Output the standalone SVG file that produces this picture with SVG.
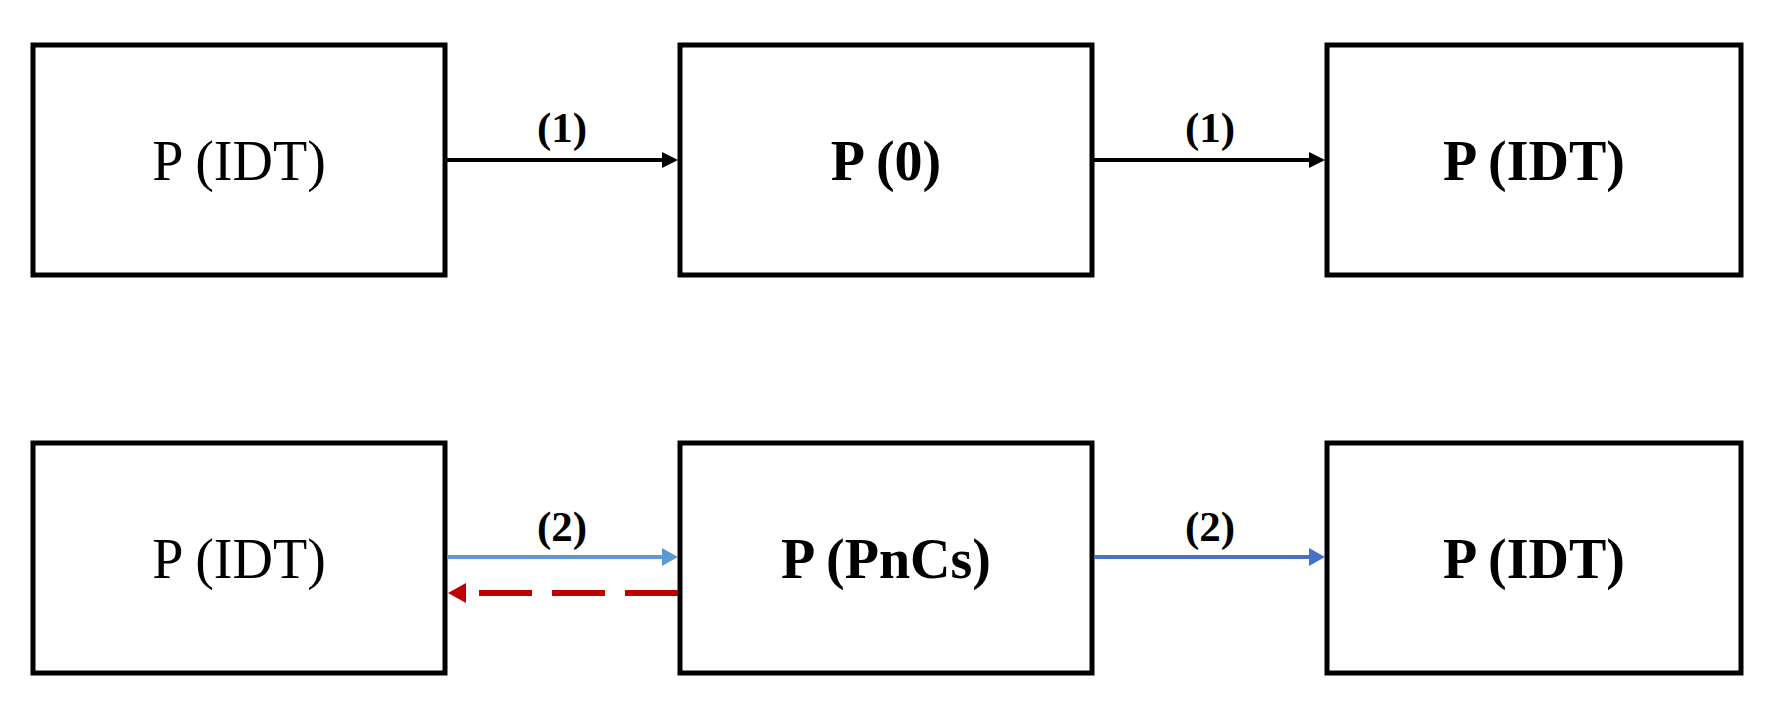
<svg xmlns="http://www.w3.org/2000/svg" width="1781" height="713" viewBox="0 0 1781 713">
<style>
.box{fill:#fff;stroke:#000;stroke-width:5}
.t{font-family:"Liberation Serif","Times New Roman",serif;font-size:56px;text-anchor:middle;fill:#000}
.b{font-weight:bold}
.lbl{font-family:"Liberation Serif","Times New Roman",serif;font-size:43px;font-weight:bold;text-anchor:middle;fill:#000}
</style>
<defs>
<marker id="ahK" markerUnits="userSpaceOnUse" markerWidth="16" markerHeight="16" refX="0" refY="8" orient="auto"><path d="M0,0 L16,8 L0,16 z" fill="#000"/></marker>
<marker id="ahL" markerUnits="userSpaceOnUse" markerWidth="16" markerHeight="18" refX="0" refY="9" orient="auto"><path d="M0,0 L16,9 L0,18 z" fill="#5B9BD5"/></marker>
<marker id="ahB" markerUnits="userSpaceOnUse" markerWidth="16" markerHeight="18" refX="0" refY="9" orient="auto"><path d="M0,0 L16,9 L0,18 z" fill="#4472C4"/></marker>
<marker id="ahR" markerUnits="userSpaceOnUse" markerWidth="18" markerHeight="20" refX="0" refY="10" orient="auto"><path d="M0,0 L18,10 L0,20 z" fill="#C00000"/></marker>
</defs>
<g id="n1"><rect class="box" x="33" y="45" width="412" height="230"/><text class="t" x="239" y="180">P (IDT)</text></g>
<g id="n2"><rect class="box" x="680" y="45" width="412" height="230"/><text class="t b" x="886" y="180">P (0)</text></g>
<g id="n3"><rect class="box" x="1327" y="45" width="414" height="230"/><text class="t b" x="1534" y="180">P (IDT)</text></g>
<g id="n4"><rect class="box" x="33" y="443" width="412" height="230"/><text class="t" x="239" y="578">P (IDT)</text></g>
<g id="n5"><rect class="box" x="680" y="443" width="412" height="230"/><text class="t b" x="886" y="578">P (PnCs)</text></g>
<g id="n6"><rect class="box" x="1327" y="443" width="414" height="230"/><text class="t b" x="1534" y="578">P (IDT)</text></g>
<g id="connectors">
<line x1="447" y1="160" x2="662" y2="160" stroke="#000" stroke-width="4" marker-end="url(#ahK)"/>
<text class="lbl" x="562" y="142">(1)</text>
<line x1="1094" y1="160" x2="1309" y2="160" stroke="#000" stroke-width="4" marker-end="url(#ahK)"/>
<text class="lbl" x="1210" y="142">(1)</text>
<line x1="447" y1="557" x2="662" y2="557" stroke="#5B9BD5" stroke-width="4" marker-end="url(#ahL)"/>
<text class="lbl" x="562" y="541">(2)</text>
<line x1="678" y1="593" x2="466" y2="593" stroke="#C00000" stroke-width="6" stroke-dasharray="53 20" marker-end="url(#ahR)"/>
<line x1="1094" y1="557" x2="1309" y2="557" stroke="#4472C4" stroke-width="4" marker-end="url(#ahB)"/>
<text class="lbl" x="1210" y="541">(2)</text>
</g>
</svg>
